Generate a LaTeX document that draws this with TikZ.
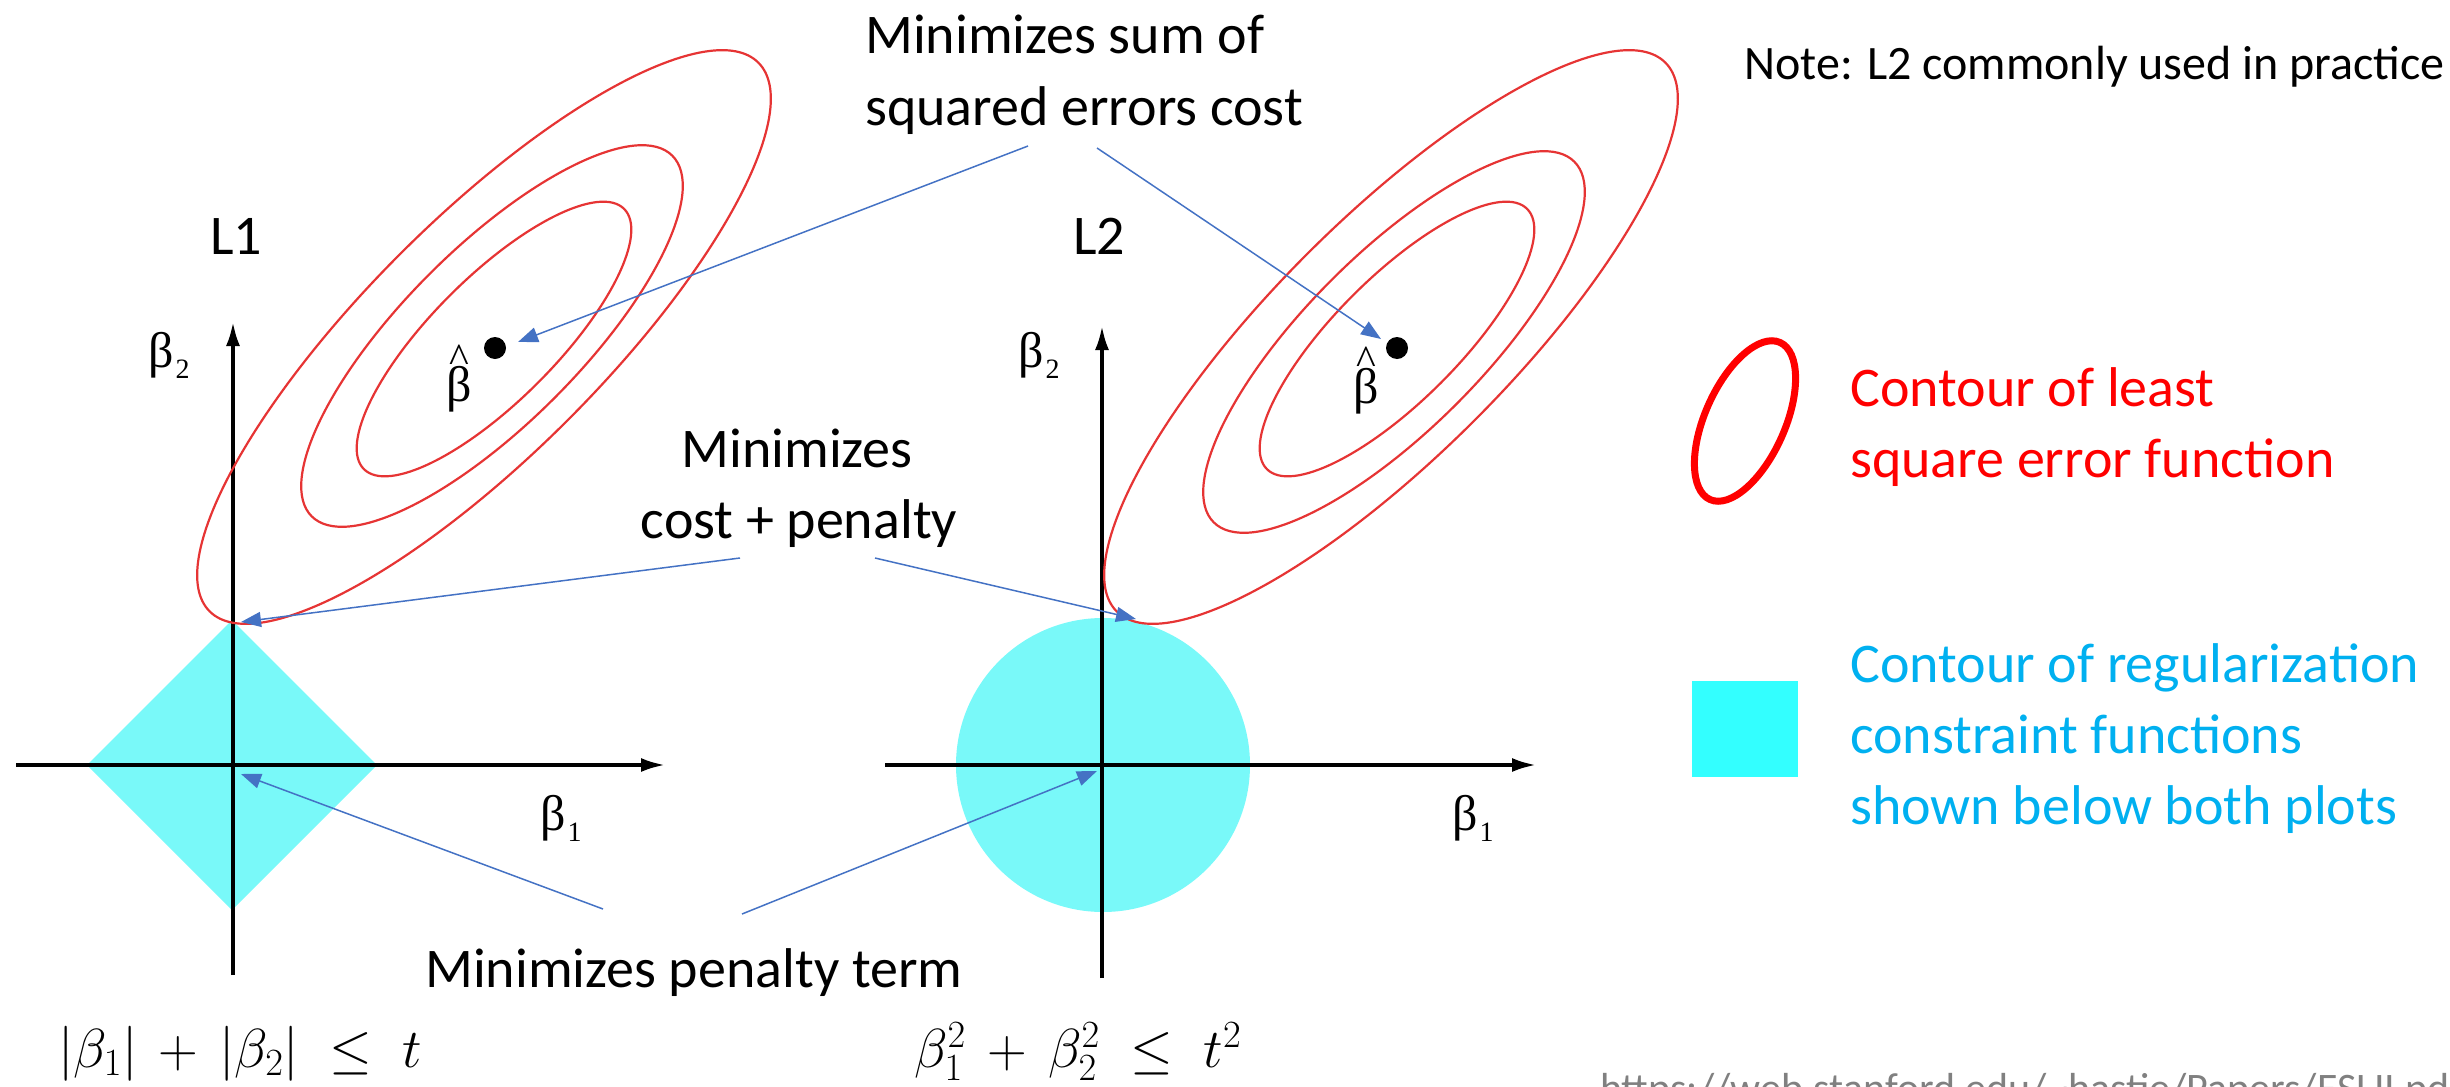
\RequirePackage{fix-cm}
\documentclass[tikz,border=0pt]{standalone}
\usepackage[no-math]{fontspec}
\setmainfont{Carlito}
\newfontfamily\serifb{Liberation Serif}
\usetikzlibrary{arrows.meta}
\definecolor{ellred}{RGB}{230,52,52}
\definecolor{cyanfill}{RGB}{121,249,249}
\definecolor{legcyan}{RGB}{51,255,255}
\definecolor{conblue}{RGB}{68,114,196}
\definecolor{legblue}{RGB}{0,176,240}
\definecolor{urlgray}{RGB}{128,128,128}
\newcommand\bsub[1]{β\kern2pt\raisebox{-11pt}{\fontsize{28}{28}\selectfont #1}}
\newcommand\bhat{\ooalign{\hfil β\hfil\cr\hfil\raisebox{29pt}{\fontsize{42}{42}\selectfont\textasciicircum}\hfil\cr}}
\begin{document}
\begin{tikzpicture}[x=1pt,y=-1pt,
  lbl/.style={inner sep=0pt, font=\fontsize{56}{67}\selectfont},
  ell/.style={draw=ellred, line width=2.2pt},
  axisline/.style={line width=3.5pt, -{Latex[length=24pt,width=14pt]}},
  conn/.style={draw=conblue, line width=1.5pt, -{Triangle[length=20pt,width=15pt]}},
  greek/.style={inner sep=0pt, font=\serifb\fontsize{50}{50}\selectfont},
  mathlbl/.style={inner sep=0pt, font=\fontsize{55}{60}\selectfont}]
\useasboundingbox (0,0) rectangle (2450,1087);

% constraint regions
\fill[cyanfill] (87,765) -- (232,620) -- (377,765) -- (232,910) -- cycle;
\fill[cyanfill] (1103,765) circle[radius=147];

% axes
\draw[axisline] (16,765) -- (665,765);
\draw[axisline] (233,975) -- (233,322);
\draw[axisline] (885,765) -- (1536,765);
\draw[axisline] (1102,978) -- (1102,326);

% contours L1
\draw[ell, rotate around={45:(484,337)}] (484,337) ellipse[x radius=388, y radius=118];
\draw[ell, rotate around={45:(492,336)}] (492,336) ellipse[x radius=255, y radius=88];
\draw[ell, rotate around={45:(494,339)}] (494,339) ellipse[x radius=184, y radius=62];
% contours L2
\draw[ell, rotate around={45:(1391,337)}] (1391,337) ellipse[x radius=388, y radius=118];
\draw[ell, rotate around={45:(1394,342)}] (1394,342) ellipse[x radius=255, y radius=88];
\draw[ell, rotate around={45:(1397,339)}] (1397,339) ellipse[x radius=184, y radius=62];

% estimates
\fill (495,348) circle[radius=11];
\fill (1397,348) circle[radius=11];

% axis labels
\node[greek, anchor=base west] (btwoA) at (148,367) {\bsub{2}};
\node[greek, anchor=base west] (btwoB) at (1018,367) {\bsub{2}};
\node[greek, anchor=base west] (boneA) at (540,830) {\bsub{1}};
\node[greek, anchor=base west] (boneB) at (1452,830) {\bsub{1}};
\node[greek, anchor=base] (bhatA) at (459,401) {\bhat};
\node[greek, anchor=base] (bhatB) at (1366,403) {\bhat};

% titles
\node[lbl, anchor=base west] (Lone) at (210,254) {L1};
\node[lbl, anchor=base west] (Ltwo) at (1073,254) {L2};

% annotation texts
\node[lbl, anchor=base west] (sumA) at (865,53) {Minimizes sum of};
\node[lbl, anchor=base west] (sumB) at (865,125) {squared errors cost};
\node[lbl, anchor=base] (cpA) at (797,467) {Minimizes};
\node[lbl, anchor=base] (cpB) at (799,538) {cost + penalty};
\node[lbl, anchor=base west] (pen) at (425,987) {Minimizes penalty term};
\node[inner sep=0pt, anchor=base west, font=\fontsize{48}{58}\selectfont] (note) at (1744,79) {Note: L2 commonly used in practice};

% connector ends
\coordinate (sumL) at (1028,146);
\coordinate (sumR) at (1097,148);
\coordinate (cpL) at (740,558);
\coordinate (cpR) at (875,558);
\coordinate (penL) at (603,909);
\coordinate (penR) at (742,914);
\coordinate (hatA) at (518,342);
\coordinate (hatB) at (1381,339);
\coordinate (tchA) at (241,622);
\coordinate (tchB) at (1136,619);
\coordinate (orgA) at (241,774);
\coordinate (orgB) at (1097,771);

\draw[conn] (sumL) -- (hatA);
\draw[conn] (sumR) -- (hatB);
\draw[conn] (cpL) -- (tchA);
\draw[conn] (cpR) -- (tchB);
\draw[conn] (penL) -- (orgA);
\draw[conn] (penR) -- (orgB);

% legend
\draw[red, line width=7pt, rotate around={66:(1745,421)}] (1745,421) ellipse[x radius=86, y radius=40];
\fill[legcyan] (1692,681) rectangle (1798,777);
\node[lbl, anchor=base west, text=red] (lgA) at (1850,406) {Contour of least};
\node[lbl, anchor=base west, text=red] (lgB) at (1850,477) {square error function};
\node[lbl, anchor=base west, text=legblue] (lgC) at (1850,682) {Contour of regularization};
\node[lbl, anchor=base west, text=legblue] (lgD) at (1850,753) {constraint functions};
\node[lbl, anchor=base west, text=legblue] (lgE) at (1850,824) {shown below both plots};

% formulas
\node[mathlbl, anchor=base west] (fA) at (58,1067) {$|\beta_1| \,+\, |\beta_2| \;\leq\; t$};
\node[mathlbl, anchor=base west] (fB) at (914,1067) {$\beta_1^2 \,+\, \beta_2^2 \;\leq\; t^2$};

% source
\node[inner sep=0pt, anchor=base west, text=urlgray, font=\fontsize{42}{50}\selectfont] (url) at (1600,1102) {https://web.stanford.edu/\textasciitilde hastie/Papers/ESLII.pdf};
\end{tikzpicture}
\end{document}
